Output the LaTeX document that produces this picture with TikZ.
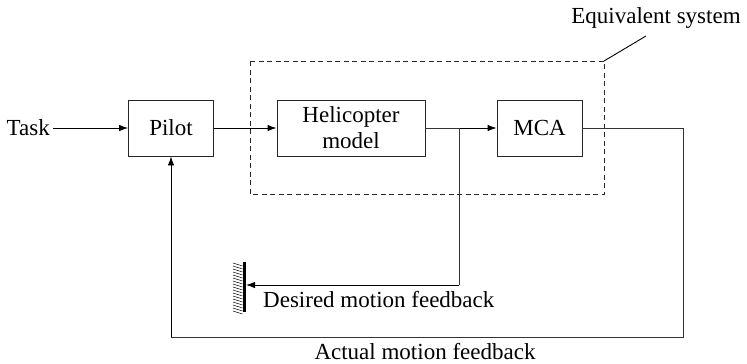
\documentclass[tikz,border=0pt]{standalone}
\usepackage{fontspec}
\setmainfont{Liberation Serif}
\usetikzlibrary{arrows.meta}
\begin{document}
\begin{tikzpicture}[x=1pt,y=-1pt,
  every node/.style={font=\fontsize{23}{26}\selectfont, inner sep=0pt},
  blockbox/.style={draw=black!85, line width=0.9pt, align=center},
  sig/.style={draw=black, line width=0.9pt, -{Latex[length=9pt,width=6.5pt]}},
  wire/.style={draw=black!80, line width=0.9pt},
  groupbox/.style={draw=black!85, line width=0.9pt, dash pattern=on 5pt off 3.5pt}]
\useasboundingbox (0,0) rectangle (747,364);

% blocks
\node[blockbox, minimum width=85pt, minimum height=56pt] (pilot) at (171,128) {Pilot};
\node[blockbox, minimum width=148pt, minimum height=56pt] (heli) at (351,128) {Helicopter\\model};
\node[blockbox, minimum width=85pt, minimum height=56pt] (mca) at (539.5,128) {MCA};

% equivalent system frame and its label
\draw[groupbox] (250,61) rectangle (604,194);
\coordinate (frame) at (604,61);
\node[anchor=center] (eqlabel) at (656,18) {Equivalent system};
\draw[line width=0.9pt] (frame) -- (646,36);

% input
\node[anchor=east] (task) at (50,128) {Task};
\draw[sig] (task.east) ++(3,0) -- (pilot.west);

% forward path
\draw[sig] (pilot.east) -- (heli.west);
\coordinate (split) at (459,128);
\draw[wire] (heli.east) -- (split);
\draw[sig] (split) -- (mca.west);

% desired motion feedback to the ground symbol
\coordinate (wall) at (244,285);
\draw[line width=3pt] (244,262) -- (244,312);
\foreach \k in {0,...,16} {
  \draw[line width=0.5pt] (233,{263+3*\k}) -- (242.5,{266+3*\k});
}
\draw[wire] (split) -- (459,285);
\draw[sig] (459,285) -- ([xshift=2pt]wall);
\node[anchor=west] (desired) at (263,300) {Desired motion feedback};

% actual motion feedback back to the pilot
\coordinate (outr) at (683,128);
\coordinate (outb) at (683,337);
\draw[wire] (mca.east) -- (outr) -- (outb) -- (pilot.south |- outb);
\draw[sig] (pilot.south |- outb) -- (pilot.south);
\node (actual) at (425,352) {Actual motion feedback};
\end{tikzpicture}
\end{document}
